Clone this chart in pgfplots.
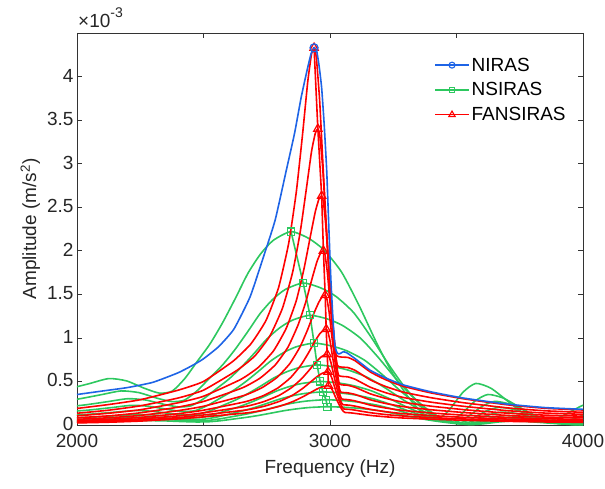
\documentclass[border=0pt]{standalone}
\usepackage{fontspec}
\setmainfont{Liberation Sans}
\usepackage{pgfplots}
\pgfplotsset{compat=1.18}
\definecolor{cb}{RGB}{30,100,230}
\definecolor{cg}{RGB}{45,200,95}
\definecolor{cr}{RGB}{255,0,0}
\newcommand{\fs}{\fontsize{19}{22}\selectfont}
\pgfplotsset{cur/.style={line width=1.6pt}}
\begin{document}
\begin{tikzpicture}
\useasboundingbox (-77pt,-63pt) rectangle (528pt,425pt);
\begin{axis}[
 at={(0pt,0pt)}, anchor=south west,
 scale only axis, width=506pt, height=392pt,
 xmin=2000, xmax=4000, ymin=0, ymax=4.5,
 xtick={2000,2500,3000,3500,4000},
 xticklabels={2000,2500,3000,3500,4000},
 ytick={0,0.5,1,1.5,2,2.5,3,3.5,4},
 yticklabels={0,0.5,1,1.5,2,2.5,3,3.5,4},
 tick align=inside, major tick length=5pt,
 axis line style={draw=black!80, line width=0.7pt},
 tick style={draw=black!80, line width=0.7pt},
 tick label style={font=\fs, text=black!85},
 xticklabel style={yshift=-6pt},
 yticklabel style={yshift=1pt},
 xlabel={Frequency (Hz)},
 ylabel={Amplitude (m/s\textsuperscript{2})},
 label style={font=\fs, text=black!85},
 xlabel style={yshift=-5pt},
 legend style={draw=none, fill=none, font=\fs, at={(rel axis cs:0.972,0.945)}, anchor=north east, row sep=6pt, inner sep=1pt},
 legend cell align=left,
 legend image code/.code={\draw[mark repeat=2,mark phase=2,#1] plot coordinates {(0pt,0pt) (17pt,0pt) (34pt,0pt)};},
]
\addlegendimage{cb, line width=1.3pt, mark=o, mark size=3pt, mark options={line width=1.1pt, fill=white}}
\addlegendentry{NIRAS}
\addlegendimage{cg, line width=1.3pt, mark=square, mark size=2.6pt, mark options={line width=1.1pt, fill=white}}
\addlegendentry{NSIRAS}
\addlegendimage{cr, line width=1.3pt, mark=triangle, mark size=3.6pt, mark options={line width=1.1pt, fill=white}}
\addlegendentry{FANSIRAS}

% ---------------- NSIRAS (green) ----------------
\addplot[cg, cur, smooth, tension=0.4, forget plot] coordinates {(1946,0.400)(2046,0.473)(2126,0.533)(2196,0.506)(2266,0.422)(2326,0.366)(2376,0.389)(2426,0.533)(2476,0.733)(2526,0.932)(2576,1.177)(2626,1.454)(2676,1.743)(2726,1.965)(2776,2.120)(2846,2.22)(2916,2.142)(2976,2.009)(3046,1.754)(3116,1.365)(3186,0.932)(3246,0.599)(3306,0.333)(3366,0.133)(3416,0.056)(3466,0.155)(3526,0.377)(3576,0.477)(3636,0.422)(3706,0.266)(3776,0.111)(3846,0.033)(3916,0.100)(3996,0.222)(4066,0.289)};
\addplot[cg, cur, smooth, tension=0.4, forget plot] coordinates {(1894,0.261)(1994,0.293)(2094,0.347)(2174,0.391)(2244,0.372)(2314,0.310)(2374,0.269)(2424,0.285)(2474,0.391)(2524,0.538)(2574,0.685)(2624,0.864)(2674,1.068)(2724,1.280)(2774,1.443)(2824,1.557)(2894,1.63)(2964,1.573)(3024,1.475)(3094,1.288)(3164,1.002)(3234,0.685)(3294,0.440)(3354,0.245)(3414,0.098)(3464,0.041)(3514,0.114)(3574,0.277)(3624,0.350)(3684,0.310)(3754,0.196)(3824,0.082)(3894,0.024)(3964,0.073)(4044,0.163)};
\addplot[cg, cur, smooth, tension=0.4, forget plot] coordinates {(1921,0.202)(2021,0.227)(2121,0.268)(2201,0.302)(2271,0.287)(2341,0.239)(2401,0.208)(2451,0.221)(2501,0.302)(2551,0.416)(2601,0.529)(2651,0.668)(2701,0.825)(2751,0.989)(2801,1.115)(2851,1.203)(2921,1.26)(2991,1.216)(3051,1.140)(3121,0.995)(3191,0.775)(3261,0.529)(3321,0.340)(3381,0.189)(3441,0.076)(3491,0.032)(3541,0.088)(3601,0.214)(3651,0.271)(3711,0.239)(3781,0.151)(3851,0.063)(3921,0.019)(3991,0.057)(4071,0.126)};
\addplot[cg, cur, smooth, tension=0.4, forget plot] coordinates {(1937,0.150)(2037,0.169)(2137,0.200)(2217,0.226)(2287,0.214)(2357,0.179)(2417,0.155)(2467,0.165)(2517,0.226)(2567,0.310)(2617,0.395)(2667,0.498)(2717,0.616)(2767,0.738)(2817,0.832)(2867,0.898)(2937,0.94)(3007,0.907)(3067,0.851)(3137,0.743)(3207,0.578)(3277,0.395)(3337,0.254)(3397,0.141)(3457,0.056)(3507,0.024)(3557,0.066)(3617,0.160)(3667,0.202)(3727,0.179)(3797,0.113)(3867,0.047)(3937,0.014)(4007,0.042)};
\addplot[cg, cur, smooth, tension=0.4, forget plot] coordinates {(1949,0.110)(2049,0.124)(2149,0.147)(2229,0.166)(2299,0.157)(2369,0.131)(2429,0.114)(2479,0.121)(2529,0.166)(2579,0.228)(2629,0.290)(2679,0.366)(2729,0.452)(2779,0.542)(2829,0.611)(2879,0.659)(2949,0.69)(3019,0.666)(3079,0.624)(3149,0.545)(3219,0.424)(3289,0.290)(3349,0.186)(3409,0.104)(3469,0.041)(3519,0.017)(3569,0.048)(3629,0.117)(3679,0.148)(3739,0.131)(3809,0.083)(3879,0.035)(3949,0.010)(4019,0.031)};
\addplot[cg, cur, smooth, tension=0.4, forget plot] coordinates {(1961,0.080)(2061,0.090)(2161,0.107)(2241,0.120)(2311,0.114)(2381,0.095)(2441,0.083)(2491,0.088)(2541,0.120)(2591,0.165)(2641,0.210)(2691,0.265)(2741,0.328)(2791,0.393)(2841,0.443)(2891,0.478)(2961,0.50)(3031,0.483)(3091,0.453)(3161,0.395)(3231,0.308)(3301,0.210)(3361,0.135)(3421,0.075)(3481,0.030)(3531,0.013)(3581,0.035)(3641,0.085)(3691,0.108)(3751,0.095)(3821,0.060)(3891,0.025)(3961,0.008)(4031,0.023)};
\addplot[cg, cur, smooth, tension=0.4, forget plot] coordinates {(1972,0.061)(2072,0.068)(2172,0.081)(2252,0.091)(2322,0.087)(2392,0.072)(2452,0.063)(2502,0.067)(2552,0.091)(2602,0.125)(2652,0.160)(2702,0.201)(2752,0.249)(2802,0.298)(2852,0.336)(2902,0.363)(2972,0.38)(3042,0.367)(3102,0.344)(3172,0.300)(3242,0.234)(3312,0.160)(3372,0.103)(3432,0.057)(3492,0.023)(3542,0.010)(3592,0.027)(3652,0.065)(3702,0.082)(3762,0.072)(3832,0.046)(3902,0.019)(3972,0.006)(4042,0.017)};
\addplot[cg, cur, smooth, tension=0.4, forget plot] coordinates {(1984,0.046)(2084,0.052)(2184,0.062)(2264,0.070)(2334,0.066)(2404,0.055)(2464,0.048)(2514,0.051)(2564,0.070)(2614,0.096)(2664,0.122)(2714,0.154)(2764,0.190)(2814,0.228)(2864,0.257)(2914,0.277)(2984,0.29)(3054,0.280)(3114,0.262)(3184,0.229)(3254,0.178)(3324,0.122)(3384,0.078)(3444,0.044)(3504,0.017)(3554,0.007)(3604,0.020)(3664,0.049)(3714,0.062)(3774,0.055)(3844,0.035)(3914,0.015)(3984,0.004)(4054,0.013)};
\addplot[cg, cur, smooth, tension=0.4, forget plot] coordinates {(1990,0.034)(2090,0.038)(2190,0.045)(2270,0.050)(2340,0.048)(2410,0.040)(2470,0.035)(2520,0.037)(2570,0.050)(2620,0.069)(2670,0.088)(2720,0.111)(2770,0.138)(2820,0.165)(2870,0.186)(2920,0.201)(2990,0.21)(3060,0.203)(3120,0.190)(3190,0.166)(3260,0.129)(3330,0.088)(3390,0.057)(3450,0.032)(3510,0.013)(3560,0.005)(3610,0.015)(3670,0.036)(3720,0.045)(3780,0.040)(3850,0.025)(3920,0.011)(3990,0.003)(4060,0.009)};
\addplot[cg, cur, mark=square, mark size=3.6pt, mark options={line width=1.2pt, fill=white}, forget plot] coordinates {(2846,2.22)(2894,1.63)(2921,1.26)(2937,0.94)(2949,0.69)(2961,0.50)(2972,0.38)(2984,0.29)(2990,0.21)};

% ---------------- FANSIRAS (red) ----------------
\addplot[cr, cur, smooth, tension=0.3, forget plot] coordinates {(2000,0.19)(2125,0.235)(2250,0.29)(2400,0.40)(2500,0.50)(2617,0.733)(2687,0.93)(2747,1.20)(2797,1.58)(2837,2.09)(2867,2.68)(2892,3.35)(2912,3.94)(2927,4.26)(2937,4.33)(2945.8,4.224)(2959,3.730)(2972.2,2.989)(2985.4,2.283)(2998.6,1.647)(3011.8,1.118)(3025,0.80)(3070,0.776)(3100,0.736)(3160,0.608)(3220,0.52)(3290,0.444)(3400,0.368)(3530,0.30)(3700,0.232)(3850,0.192)(4000,0.172)};
\addplot[cr, cur, smooth, tension=0.3, forget plot] coordinates {(2000,0.135)(2125,0.17)(2250,0.22)(2400,0.31)(2500,0.40)(2632,0.627)(2702,0.79)(2762,1.02)(2812,1.34)(2852,1.75)(2882,2.21)(2907,2.72)(2927,3.14)(2942,3.35)(2952,3.40)(2959.8,3.318)(2971.5,2.938)(2983.2,2.366)(2994.9,1.822)(3006.6,1.333)(3018.3,0.925)(3030,0.68)(3070,0.660)(3100,0.626)(3160,0.517)(3220,0.442)(3290,0.377)(3400,0.313)(3530,0.255)(3700,0.197)(3850,0.163)(4000,0.146)};
\addplot[cr, cur, smooth, tension=0.3, forget plot] coordinates {(2000,0.105)(2125,0.135)(2250,0.175)(2400,0.255)(2500,0.33)(2647,0.523)(2717,0.662)(2777,0.852)(2827,1.11)(2867,1.43)(2897,1.79)(2922,2.16)(2942,2.45)(2957,2.60)(2967,2.63)(2973.7,2.568)(2983.75,2.280)(2993.8,1.847)(3003.85,1.435)(3013.9,1.064)(3023.95,0.755)(3034,0.57)(3070,0.553)(3100,0.524)(3160,0.433)(3220,0.371)(3290,0.316)(3400,0.262)(3530,0.214)(3700,0.165)(3850,0.137)(4000,0.123)};
\addplot[cr, cur, smooth, tension=0.3, forget plot] coordinates {(2000,0.083)(2125,0.105)(2250,0.14)(2400,0.205)(2500,0.27)(2654,0.427)(2724,0.539)(2784,0.691)(2834,0.894)(2874,1.15)(2904,1.41)(2929,1.68)(2949,1.88)(2964,1.98)(2974,2.0)(2980.4,1.954)(2990,1.740)(2999.6,1.419)(3009.2,1.113)(3018.8,0.837)(3028.4,0.608)(3038,0.47)(3070,0.456)(3100,0.432)(3160,0.357)(3220,0.306)(3290,0.261)(3400,0.216)(3530,0.176)(3700,0.136)(3850,0.113)(4000,0.101)};
\addplot[cr, cur, smooth, tension=0.3, forget plot] coordinates {(2000,0.065)(2125,0.083)(2250,0.11)(2400,0.165)(2500,0.215)(2661,0.340)(2731,0.428)(2791,0.547)(2841,0.704)(2881,0.894)(2911,1.09)(2936,1.28)(2956,1.41)(2971,1.48)(2981,1.49)(2987.1,1.457)(2996.25,1.301)(3005.4,1.068)(3014.55,0.846)(3023.7,0.646)(3032.85,0.480)(3042,0.38)(3070,0.369)(3100,0.350)(3160,0.289)(3220,0.247)(3290,0.211)(3400,0.175)(3530,0.143)(3700,0.110)(3850,0.091)(4000,0.082)};
\addplot[cr, cur, smooth, tension=0.3, forget plot] coordinates {(2000,0.05)(2125,0.065)(2250,0.087)(2400,0.13)(2500,0.17)(2665,0.267)(2735,0.335)(2795,0.427)(2845,0.546)(2885,0.687)(2915,0.828)(2940,0.959)(2960,1.05)(2975,1.09)(2985,1.10)(2991.1,1.076)(3000.25,0.964)(3009.4,0.796)(3018.55,0.636)(3027.7,0.492)(3036.85,0.372)(3046,0.30)(3070,0.291)(3100,0.276)(3160,0.228)(3220,0.195)(3290,0.167)(3400,0.138)(3530,0.113)(3700,0.087)(3850,0.072)(4000,0.065)};
\addplot[cr, cur, smooth, tension=0.3, forget plot] coordinates {(2000,0.038)(2125,0.051)(2250,0.07)(2400,0.105)(2500,0.14)(2669,0.215)(2739,0.269)(2799,0.340)(2849,0.431)(2889,0.535)(2919,0.634)(2944,0.721)(2964,0.779)(2979,0.805)(2989,0.81)(2995.1,0.793)(3004.25,0.712)(3013.4,0.592)(3022.55,0.477)(3031.7,0.373)(3040.85,0.287)(3050,0.235)(3075,0.228)(3100,0.216)(3160,0.179)(3220,0.153)(3290,0.130)(3400,0.108)(3530,0.088)(3700,0.068)(3850,0.056)(4000,0.051)};
\addplot[cr, cur, smooth, tension=0.3, forget plot] coordinates {(2000,0.03)(2125,0.04)(2250,0.055)(2400,0.085)(2500,0.115)(2672,0.174)(2742,0.217)(2802,0.273)(2852,0.342)(2892,0.420)(2922,0.491)(2947,0.551)(2967,0.590)(2982,0.607)(2992,0.61)(2998.2,0.597)(3007.5,0.538)(3016.8,0.449)(3026.1,0.364)(3035.4,0.287)(3044.7,0.223)(3054,0.185)(3080,0.178)(3100,0.170)(3160,0.141)(3220,0.120)(3290,0.103)(3400,0.085)(3530,0.069)(3700,0.054)(3850,0.044)(4000,0.040)};
\addplot[cr, cur, smooth, tension=0.3, forget plot] coordinates {(2000,0.024)(2125,0.032)(2250,0.045)(2400,0.07)(2500,0.093)(2674,0.140)(2744,0.174)(2804,0.218)(2854,0.270)(2894,0.326)(2924,0.374)(2949,0.414)(2969,0.438)(2984,0.448)(2994,0.45)(3000.4,0.441)(3010,0.398)(3019.6,0.334)(3029.2,0.273)(3038.8,0.218)(3048.4,0.172)(3058,0.145)(3080,0.140)(3100,0.133)(3160,0.110)(3220,0.094)(3290,0.080)(3400,0.067)(3530,0.054)(3700,0.042)(3850,0.035)(4000,0.031)};
\addplot[cr, cur, mark=triangle, mark size=4.8pt, mark options={line width=1.2pt, fill=white}, forget plot] coordinates {(2937,4.33)(2952,3.40)(2967,2.63)(2974,2.0)(2981,1.49)(2985,1.10)(2989,0.81)(2992,0.61)(2994,0.45)};

% ---------------- NIRAS (blue) ----------------
\addplot[cb, cur, smooth, tension=0.3, forget plot] coordinates {(2000,0.35)(2100,0.39)(2200,0.43)(2300,0.49)(2400,0.60)(2460,0.69)(2500,0.76)(2560,0.90)(2620,1.10)(2684,1.47)(2737,1.93)(2783,2.35)(2827,2.92)(2860,3.35)(2886,3.76)(2910,4.08)(2925,4.26)(2937,4.33)(2947,4.30)(2957,4.12)(2967,3.87)(2977,3.45)(2987,2.92)(2995,2.30)(3003,1.70)(3012,1.20)(3020,0.90)(3030,0.82)(3040,0.82)(3052,0.84)(3066,0.83)(3100,0.76)(3158,0.63)(3220,0.54)(3290,0.46)(3400,0.38)(3526,0.31)(3700,0.24)(3850,0.20)(4000,0.18)};
\addplot[cb, only marks, mark=o, mark size=4pt, mark options={line width=1.3pt, fill=white}, forget plot] coordinates {(2937,4.33)};
\end{axis}
\node[anchor=base west, font=\fs, text=black!85, inner sep=0pt] at (1pt,397pt) {×10\raisebox{0.55em}{\fontsize{14}{14}\selectfont -3}};
\end{tikzpicture}
\end{document}
